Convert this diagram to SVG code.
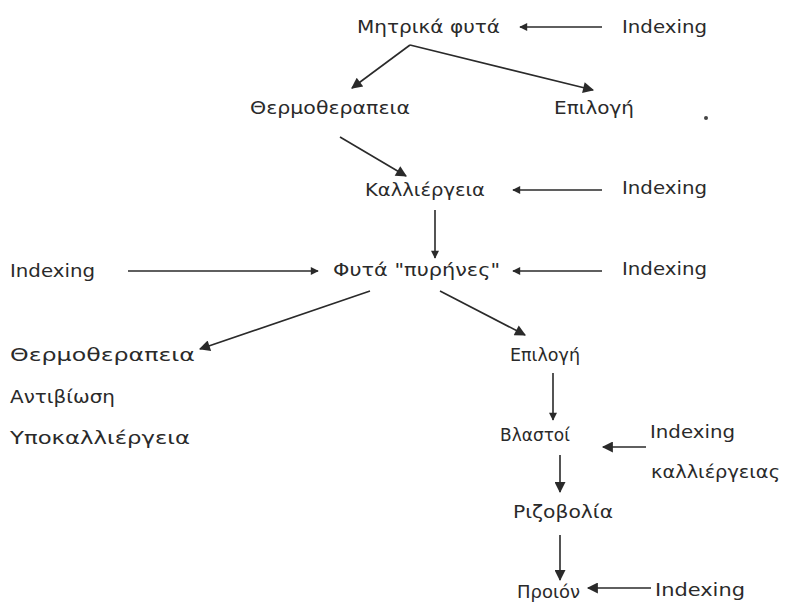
<svg xmlns="http://www.w3.org/2000/svg" width="789" height="604" viewBox="0 0 789 604">
<style>
text{font-family:"DejaVu Sans","Liberation Sans",sans-serif;font-size:17px;fill:#2a2a2a}
.c line{stroke:#2a2a2a;stroke-width:1.6;fill:none}
</style>
<defs>
<marker id="ah" viewBox="0 0 10 10" refX="9" refY="5" markerWidth="12" markerHeight="8" markerUnits="userSpaceOnUse" orient="auto"><path d="M0,0 L10,5 L0,10 Z" fill="#2a2a2a"/></marker>
<marker id="ahb" viewBox="0 0 10 10" refX="9" refY="5" markerWidth="18" markerHeight="11" markerUnits="userSpaceOnUse" orient="auto"><path d="M0,0 L10,5 L0,10 Z" fill="#2a2a2a"/></marker>
</defs>
<rect width="789" height="604" fill="#fff"/>
<g id="n1"><text x="357" y="33" textLength="143" lengthAdjust="spacingAndGlyphs">Μητρικά φυτά</text></g>
<g id="i1"><text x="622" y="33" textLength="85" lengthAdjust="spacingAndGlyphs">Indexing</text></g>
<g id="n2"><text x="250" y="114" textLength="160" lengthAdjust="spacingAndGlyphs">Θερμοθεραπεια</text></g>
<g id="n3"><text x="554" y="114" textLength="80" lengthAdjust="spacingAndGlyphs">Επιλογή</text></g>
<g id="n4"><text x="365" y="196" textLength="120" lengthAdjust="spacingAndGlyphs">Καλλιέργεια</text></g>
<g id="i2"><text x="622" y="194" textLength="85" lengthAdjust="spacingAndGlyphs">Indexing</text></g>
<g id="n5"><text x="333" y="276" textLength="167" lengthAdjust="spacingAndGlyphs">Φυτά "πυρήνες"</text></g>
<g id="i3"><text x="10" y="277" textLength="85" lengthAdjust="spacingAndGlyphs">Indexing</text></g>
<g id="i4"><text x="622" y="275" textLength="85" lengthAdjust="spacingAndGlyphs">Indexing</text></g>
<g id="n6"><text x="10" y="361" textLength="185" lengthAdjust="spacingAndGlyphs">Θερμοθεραπεια</text><text x="10" y="403" textLength="105" lengthAdjust="spacingAndGlyphs">Αντιβίωση</text><text x="10" y="444" textLength="180" lengthAdjust="spacingAndGlyphs">Υποκαλλιέργεια</text></g>
<g id="n7"><text x="510" y="361" textLength="70" lengthAdjust="spacingAndGlyphs">Επιλογή</text></g>
<g id="n8"><text x="500" y="441" textLength="70" lengthAdjust="spacingAndGlyphs">Βλαστοί</text></g>
<g id="i5"><text x="650" y="438" textLength="85" lengthAdjust="spacingAndGlyphs">Indexing</text><text x="651" y="478" textLength="129" lengthAdjust="spacingAndGlyphs">καλλιέργειας</text></g>
<g id="n9"><text x="513" y="518" textLength="100" lengthAdjust="spacingAndGlyphs">Ριζοβολία</text></g>
<g id="n10"><text x="517" y="598" textLength="63" lengthAdjust="spacingAndGlyphs">Προιόν</text></g>
<g id="i6"><text x="655" y="596" textLength="90" lengthAdjust="spacingAndGlyphs">Indexing</text></g>
<circle cx="706" cy="118" r="2" fill="#444"/>
<g class="c">
<line x1="602" y1="27" x2="520" y2="27" marker-end="url(#ah)"/>
<line x1="410" y1="45" x2="352" y2="88" marker-end="url(#ahb)"/>
<line x1="410" y1="45" x2="593" y2="90" marker-end="url(#ahb)"/>
<line x1="340" y1="137" x2="406" y2="176" marker-end="url(#ahb)"/>
<line x1="602" y1="190" x2="513" y2="190" marker-end="url(#ah)"/>
<line x1="435" y1="210" x2="435" y2="258" marker-end="url(#ah)"/>
<line x1="128" y1="271" x2="318" y2="271" marker-end="url(#ah)"/>
<line x1="602" y1="271" x2="513" y2="271" marker-end="url(#ah)"/>
<line x1="370" y1="291" x2="200" y2="349" marker-end="url(#ahb)"/>
<line x1="440" y1="291" x2="525" y2="335" marker-end="url(#ahb)"/>
<line x1="553" y1="373" x2="553" y2="420" marker-end="url(#ah)"/>
<line x1="646" y1="447" x2="603" y2="447" marker-end="url(#ahb)"/>
<line x1="560" y1="455" x2="560" y2="492" marker-end="url(#ahb)"/>
<line x1="560" y1="535" x2="560" y2="580" marker-end="url(#ahb)"/>
<line x1="651" y1="588" x2="588" y2="588" marker-end="url(#ahb)"/>
</g>
</svg>
